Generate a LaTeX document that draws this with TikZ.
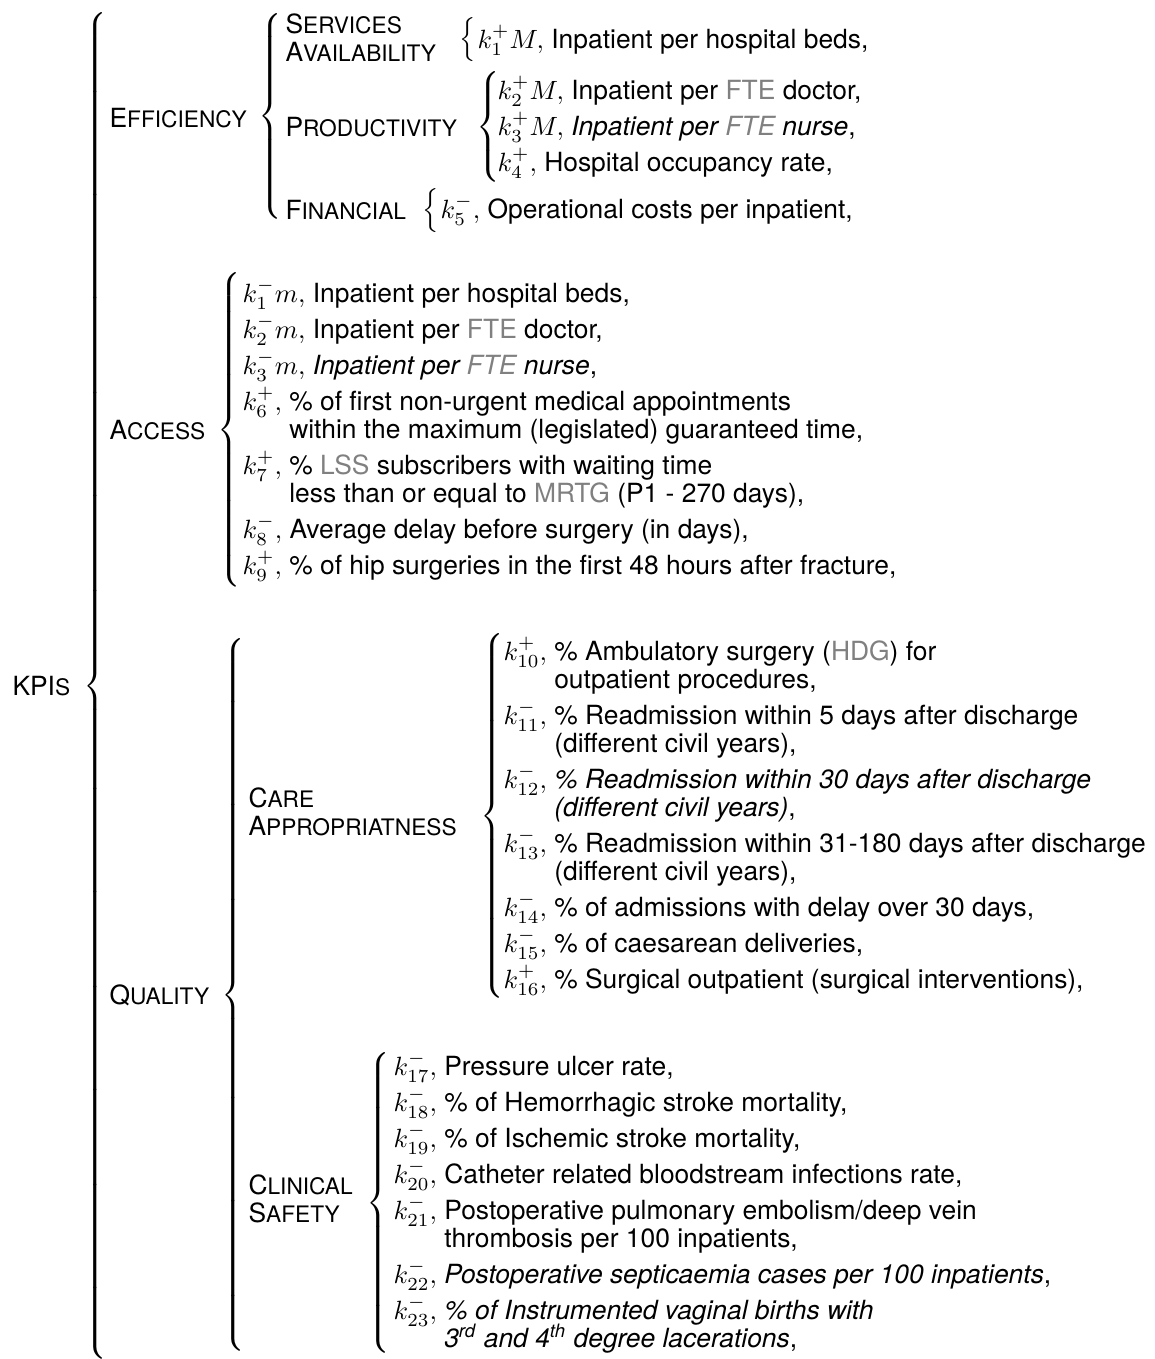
\documentclass[tikz,border=0pt]{standalone}
\usepackage[no-math]{fontspec}
\setmainfont{TeX Gyre Heros}
\usepackage{graphicx}
\definecolor{acr}{gray}{0.5}
\newcommand\fsc[2]{#1{\fontsize{8.6}{10}\selectfont #2}}
\newcommand\acr[1]{\textcolor{acr}{#1}}
\newcommand\bracebox[1]{{\nulldelimiterspace=0pt\resizebox*{!}{#1}{$\left\{\vcenter{\hbox{\rule{0pt}{#1}}}\right.$}}}
\tikzset{
  lbl/.style={anchor=base west, inner sep=0pt},
  itm/.style={anchor=base west, inner sep=0pt},
  brc/.style={anchor=west, inner sep=0pt},
}
\begin{document}
\begin{tikzpicture}[x=0.3788pt,y=-0.3788pt]
\useasboundingbox (0,0) rectangle (1155,1359);
% level 0
\node[lbl] (lK) at (12,695) {\fsc{KPI}{S}};
\node[brc] (bK) at (83,686) {\bracebox{513.6pt}};
% level 1 labels
\node[lbl] (lEff) at (109,127) {\fsc{E}{FFICIENCY}};
\node[brc] (bEff) at (258,116) {\bracebox{80.3pt}};
\node[lbl] (lAcc) at (109,439) {\fsc{A}{CCESS}};
\node[brc] (bAcc) at (217,430) {\bracebox{119.3pt}};
\node[lbl] (lQua) at (109,1004) {\fsc{Q}{UALITY}};
\node[brc] (bQua) at (221,995) {\bracebox{275pt}};
% efficiency
\node[lbl] (lSA1) at (285,33) {\fsc{S}{ERVICES}};
\node[lbl] (lSA2) at (285,61) {\fsc{A}{VAILABILITY}};
\node[brc] (bSA) at (459,40) {\bracebox{16.7pt}};
\node[itm] (e1) at (477,48) {$k_1^+M,$ Inpatient per hospital beds,};
\node[lbl] (lPro) at (285,136) {\fsc{P}{RODUCTIVITY}};
\node[brc] (bPro) at (476,127) {\bracebox{42.4pt}};
\node[itm] (e2) at (497,99) {$k_2^+M,$ Inpatient per \acr{FTE} doctor,};
\node[itm] (e3) at (497,135) {$k_3^+M,$ \textit{Inpatient per \acr{FTE} nurse},};
\node[itm] (e4) at (497,171) {$k_4^+,$ Hospital occupancy rate,};
\node[lbl] (lFin) at (285,219) {\fsc{F}{INANCIAL}};
\node[brc] (bFin) at (422,211) {\bracebox{16.7pt}};
\node[itm] (e5) at (440,218) {$k_5^-,$ Operational costs per inpatient,};
% access
\node[itm] (a1) at (242,302) {$k_1^-m,$ Inpatient per hospital beds,};
\node[itm] (a2) at (242,338) {$k_2^-m,$ Inpatient per \acr{FTE} doctor,};
\node[itm] (a3) at (242,374) {$k_3^-m,$ \textit{Inpatient per \acr{FTE} nurse},};
\node[itm] (a6) at (242,410) {$k_6^+,$ \% of first non-urgent medical appointments};
\node[itm] (a6b) at (242,438) {\phantom{$k_6^+,$ }within the maximum (legislated) guaranteed time,};
\node[itm] (a7) at (242,474) {$k_7^+,$ \% \acr{LSS} subscribers with waiting time};
\node[itm] (a7b) at (242,502) {\phantom{$k_7^+,$ }less than or equal to \acr{MRTG} (P1 - 270 days),};
\node[itm] (a8) at (242,538) {$k_8^-,$ Average delay before surgery (in days),};
\node[itm] (a9) at (242,574) {$k_9^+,$ \% of hip surgeries in the first 48 hours after fracture,};
% quality: care appropriateness
\node[lbl] (lCa1) at (248,807) {\fsc{C}{ARE}};
\node[lbl] (lCa2) at (248,835) {\fsc{A}{PPROPRIATNESS}};
\node[brc] (bCa) at (480,816) {\bracebox{139.4pt}};
\node[itm] (c10) at (503,660) {$k_{10}^+,$ \% Ambulatory surgery (\acr{HDG}) for};
\node[itm] (c10b) at (503,688) {\phantom{$k_{10}^+,$ }outpatient procedures,};
\node[itm] (c11) at (503,724) {$k_{11}^-,$ \% Readmission within 5 days after discharge};
\node[itm] (c11b) at (503,752) {\phantom{$k_{11}^-,$ }(different civil years),};
\node[itm] (c12) at (503,788) {$k_{12}^-,$ \textit{\% Readmission within 30 days after discharge}};
\node[itm] (c12b) at (503,816) {\phantom{$k_{12}^-,$ }\textit{(different civil years)},};
\node[itm] (c13) at (503,852) {$k_{13}^-,$ \% Readmission within 31-180 days after discharge};
\node[itm] (c13b) at (503,880) {\phantom{$k_{13}^-,$ }(different civil years),};
\node[itm] (c14) at (503,916) {$k_{14}^-,$ \% of admissions with delay over 30 days,};
\node[itm] (c15) at (503,952) {$k_{15}^-,$ \% of caesarean deliveries,};
\node[itm] (c16) at (503,988) {$k_{16}^+,$ \% Surgical outpatient (surgical interventions),};
% quality: clinical safety
\node[lbl] (lCl1) at (248,1194) {\fsc{C}{LINICAL}};
\node[lbl] (lCl2) at (248,1222) {\fsc{S}{AFETY}};
\node[brc] (bCl) at (366,1203) {\bracebox{116.3pt}};
\node[itm] (s17) at (393,1075) {$k_{17}^-,$ Pressure ulcer rate,};
\node[itm] (s18) at (393,1111) {$k_{18}^-,$ \% of Hemorrhagic stroke mortality,};
\node[itm] (s19) at (393,1147) {$k_{19}^-,$ \% of Ischemic stroke mortality,};
\node[itm] (s20) at (393,1183) {$k_{20}^-,$ Catheter related bloodstream infections rate,};
\node[itm] (s21) at (393,1219) {$k_{21}^-,$ Postoperative pulmonary embolism/deep vein};
\node[itm] (s21b) at (393,1247) {\phantom{$k_{21}^-,$ }thrombosis per 100 inpatients,};
\node[itm] (s22) at (393,1283) {$k_{22}^-,$ \textit{Postoperative septicaemia cases per 100 inpatients},};
\node[itm] (s23) at (393,1319) {$k_{23}^-,$ \textit{\% of Instrumented vaginal births with}};
\node[itm] (s23b) at (393,1347) {\phantom{$k_{23}^-,$ }\textit{3\textsuperscript{rd} and 4\textsuperscript{th} degree lacerations},};
\end{tikzpicture}
\end{document}
